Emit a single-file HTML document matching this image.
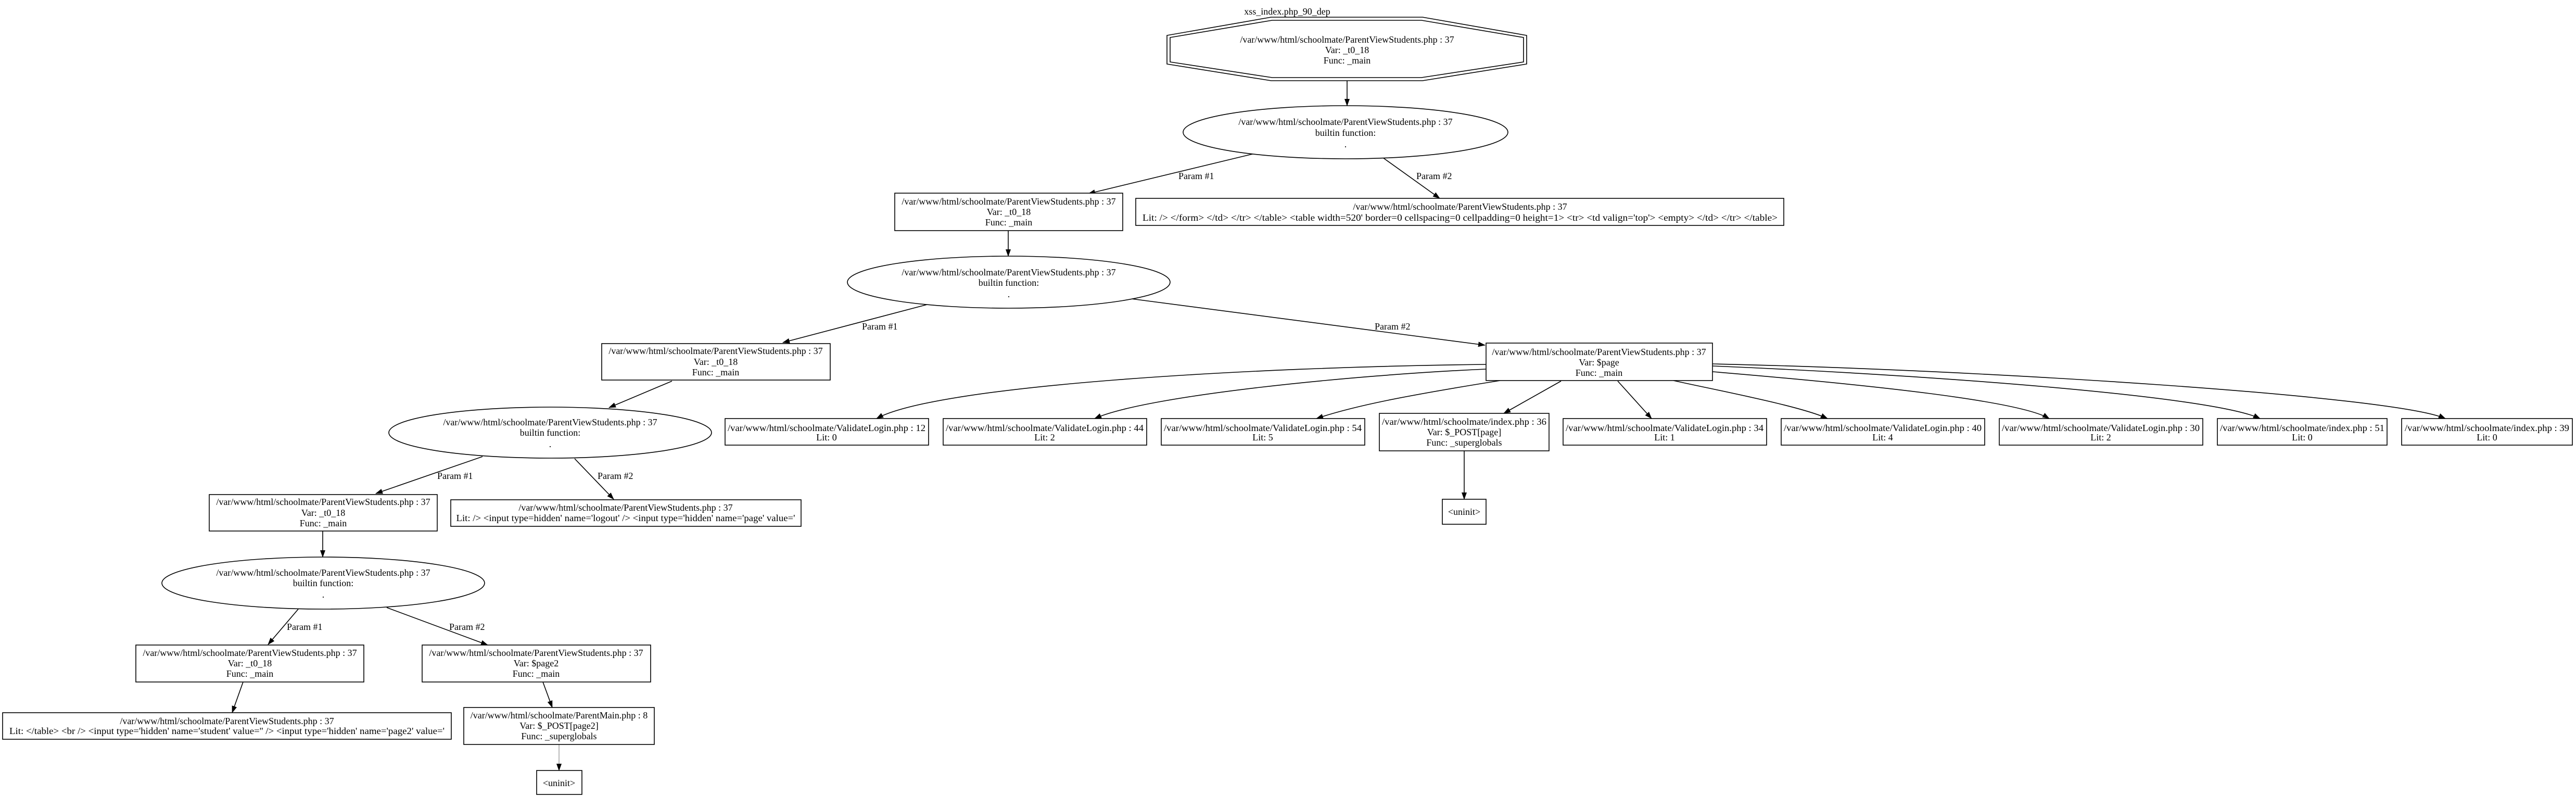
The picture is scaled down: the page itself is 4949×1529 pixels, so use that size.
<!DOCTYPE html>
<html><head><meta charset="utf-8"><style>
html,body{margin:0;padding:0;background:#fff;}
svg{display:block;}
text{font-family:"Liberation Serif",serif;font-size:18px;fill:#000;dominant-baseline:central;}
.c{text-anchor:middle;}
.n{fill:#fff;stroke:#000;stroke-width:1.6;}
.e{fill:none;stroke:#000;stroke-width:1.6;}
</style></head><body>
<svg width="4949" height="1529" viewBox="0 0 4949 1529" xmlns="http://www.w3.org/2000/svg">
<defs><marker id="a" markerWidth="10" markerHeight="8" refX="9" refY="4" orient="auto" markerUnits="userSpaceOnUse" viewBox="0 0 10 8"><path d="M0,0 L10,4 L0,8 z" fill="#000"/></marker>
<marker id="a2" markerWidth="14" markerHeight="10" refX="13" refY="5" orient="auto" markerUnits="userSpaceOnUse" viewBox="0 0 14 10"><path d="M0,0 L14,5 L0,10 z" fill="#000"/></marker></defs>

<text class="c" x="2473" y="22">xss_index.php_90_dep</text>

<!-- octagon -->
<polygon class="n" points="2442,33 2733,33 2933,68 2933,123 2733,155 2442,155 2242,123 2242,68"/>
<polygon class="n" points="2444,39 2731,39 2927,72 2927,119 2731,149 2444,149 2248,119 2248,72"/>
<text class="c" x="2588" y="76">/var/www/html/schoolmate/ParentViewStudents.php : 37</text>
<text class="c" x="2588" y="96">Var: _t0_18</text>
<text class="c" x="2588" y="116">Func: _main</text>

<!-- edges -->
<g class="e" marker-end="url(#a2)">
<path d="M2588,155 L2588,203"/>
<path d="M2410,295 L2091,372"/>
<path d="M2657,303 L2766,381"/>
<path d="M1937,443 L1937,492"/>
<path d="M1781,585 L1504,658"/>
<path d="M2174,574 L2853,663"/>
<path d="M1291,732 L1170,783"/>
<path d="M927,877 L722,948"/>
<path d="M1104,881 L1179,959"/>
<path d="M620,1020 L620,1070"/>
<path d="M573,1170 L515,1238"/>
<path d="M743,1167 L937,1239"/>
<path d="M467,1310 L446,1369"/>
<path d="M1043,1310 L1061,1359"/>
<path d="M2813,866 L2813,959"/>
<path d="M2855,700 C2400,705 1800,740 1684,804"/>
<path d="M2855,709 C2600,720 2200,760 2103,804"/>
<path d="M2882,731 C2700,760 2600,780 2529,804"/>
<path d="M2999,732 L2889,794"/>
<path d="M3108,732 L3173,804"/>
<path d="M3215,731 C3300,750 3460,780 3511,804"/>
<path d="M3290,714 C3600,740 3880,770 3937,804"/>
<path d="M3290,703 C3700,720 4250,760 4342,804"/>
<path d="M3290,699 C3800,710 4600,760 4698,804"/>
</g>
<path d="M1074,1430 L1074,1480" stroke="#888" stroke-width="1.2" fill="none" marker-end="url(#a2)"/>

<!-- edge labels -->
<text x="2264" y="338">Param #1</text>
<text x="2721" y="338">Param #2</text>
<text x="1656" y="627">Param #1</text>
<text x="2641" y="627">Param #2</text>
<text x="840" y="914">Param #1</text>
<text x="1148" y="914">Param #2</text>
<text x="551" y="1204">Param #1</text>
<text x="863" y="1204">Param #2</text>

<!-- E1 -->
<ellipse class="n" cx="2585" cy="254" rx="312" ry="51"/>
<text class="c" x="2585" y="234">/var/www/html/schoolmate/ParentViewStudents.php : 37</text>
<text class="c" x="2585" y="255">builtin function:</text>
<text class="c" x="2585" y="277">.</text>

<!-- A -->
<rect class="n" x="1719" y="371" width="438" height="72"/>
<text class="c" x="1938" y="387">/var/www/html/schoolmate/ParentViewStudents.php : 37</text>
<text class="c" x="1938" y="407">Var: _t0_18</text>
<text class="c" x="1938" y="427">Func: _main</text>

<!-- B -->
<rect class="n" x="2182" y="381" width="1245" height="52"/>
<text class="c" x="2805" y="397">/var/www/html/schoolmate/ParentViewStudents.php : 37</text>
<text class="c" x="2805" y="418" textLength="1220" lengthAdjust="spacingAndGlyphs">Lit:  /&gt; &lt;/form&gt; &lt;/td&gt; &lt;/tr&gt; &lt;/table&gt; &lt;table width=520' border=0 cellspacing=0 cellpadding=0 height=1&gt;  &lt;tr&gt;   &lt;td valign='top'&gt;   &lt;empty&gt;   &lt;/td&gt;  &lt;/tr&gt; &lt;/table&gt;</text>

<!-- E2 -->
<ellipse class="n" cx="1938" cy="542" rx="310" ry="50"/>
<text class="c" x="1938" y="523">/var/www/html/schoolmate/ParentViewStudents.php : 37</text>
<text class="c" x="1938" y="543">builtin function:</text>
<text class="c" x="1938" y="565">.</text>

<!-- C -->
<rect class="n" x="1156" y="660" width="439" height="70"/>
<text class="c" x="1375" y="674">/var/www/html/schoolmate/ParentViewStudents.php : 37</text>
<text class="c" x="1375" y="695">Var: _t0_18</text>
<text class="c" x="1375" y="715">Func: _main</text>

<!-- F -->
<rect class="n" x="2855" y="659" width="435" height="72"/>
<text class="c" x="3072" y="676">/var/www/html/schoolmate/ParentViewStudents.php : 37</text>
<text class="c" x="3072" y="696">Var: $page</text>
<text class="c" x="3072" y="716">Func: _main</text>

<!-- E3 -->
<ellipse class="n" cx="1057" cy="831" rx="310" ry="49"/>
<text class="c" x="1057" y="811">/var/www/html/schoolmate/ParentViewStudents.php : 37</text>
<text class="c" x="1057" y="831">builtin function:</text>
<text class="c" x="1057" y="853">.</text>

<!-- G -->
<rect class="n" x="402" y="950" width="438" height="70"/>
<text class="c" x="621" y="964">/var/www/html/schoolmate/ParentViewStudents.php : 37</text>
<text class="c" x="621" y="985">Var: _t0_18</text>
<text class="c" x="621" y="1005">Func: _main</text>

<!-- D -->
<rect class="n" x="866" y="960" width="673" height="51"/>
<text class="c" x="1202" y="975">/var/www/html/schoolmate/ParentViewStudents.php : 37</text>
<text class="c" x="1202" y="995" textLength="651" lengthAdjust="spacingAndGlyphs">Lit:  /&gt;  &lt;input type=hidden' name='logout' /&gt;  &lt;input type='hidden' name='page' value='</text>

<!-- E4 -->
<ellipse class="n" cx="621" cy="1120" rx="310" ry="50"/>
<text class="c" x="621" y="1100">/var/www/html/schoolmate/ParentViewStudents.php : 37</text>
<text class="c" x="621" y="1120">builtin function:</text>
<text class="c" x="621" y="1142">.</text>

<!-- H -->
<rect class="n" x="261" y="1239" width="438" height="71"/>
<text class="c" x="480" y="1254">/var/www/html/schoolmate/ParentViewStudents.php : 37</text>
<text class="c" x="480" y="1274">Var: _t0_18</text>
<text class="c" x="480" y="1294">Func: _main</text>

<!-- I -->
<rect class="n" x="811" y="1239" width="439" height="71"/>
<text class="c" x="1030" y="1254">/var/www/html/schoolmate/ParentViewStudents.php : 37</text>
<text class="c" x="1030" y="1274">Var: $page2</text>
<text class="c" x="1030" y="1294">Func: _main</text>

<!-- J -->
<rect class="n" x="5" y="1369" width="862" height="51"/>
<text class="c" x="436" y="1385">/var/www/html/schoolmate/ParentViewStudents.php : 37</text>
<text class="c" x="436" y="1404" textLength="836" lengthAdjust="spacingAndGlyphs">Lit:   &lt;/table&gt;  &lt;br /&gt;  &lt;input type='hidden' name='student' value='' /&gt;  &lt;input type='hidden' name='page2' value='</text>

<!-- K -->
<rect class="n" x="891" y="1359" width="366" height="71"/>
<text class="c" x="1074" y="1374">/var/www/html/schoolmate/ParentMain.php : 8</text>
<text class="c" x="1074" y="1394">Var: $_POST[page2]</text>
<text class="c" x="1074" y="1414">Func: _superglobals</text>

<!-- L -->
<rect class="n" x="1031" y="1480" width="87" height="46"/>
<text class="c" x="1074" y="1504">&lt;uninit&gt;</text>

<!-- bottom row -->
<rect class="n" x="1393" y="804" width="391" height="51"/>
<text class="c" x="1588" y="822" textLength="380" lengthAdjust="spacingAndGlyphs">/var/www/html/schoolmate/ValidateLogin.php : 12</text>
<text class="c" x="1588" y="840">Lit: 0</text>

<rect class="n" x="1812" y="804" width="391" height="51"/>
<text class="c" x="2007" y="822" textLength="380" lengthAdjust="spacingAndGlyphs">/var/www/html/schoolmate/ValidateLogin.php : 44</text>
<text class="c" x="2007" y="840">Lit: 2</text>

<rect class="n" x="2231" y="804" width="391" height="51"/>
<text class="c" x="2426" y="822" textLength="380" lengthAdjust="spacingAndGlyphs">/var/www/html/schoolmate/ValidateLogin.php : 54</text>
<text class="c" x="2426" y="840">Lit: 5</text>

<rect class="n" x="2650" y="794" width="326" height="72"/>
<text class="c" x="2813" y="810" textLength="316" lengthAdjust="spacingAndGlyphs">/var/www/html/schoolmate/index.php : 36</text>
<text class="c" x="2813" y="830">Var: $_POST[page]</text>
<text class="c" x="2813" y="850">Func: _superglobals</text>

<rect class="n" x="3003" y="804" width="391" height="51"/>
<text class="c" x="3198" y="822" textLength="380" lengthAdjust="spacingAndGlyphs">/var/www/html/schoolmate/ValidateLogin.php : 34</text>
<text class="c" x="3198" y="840">Lit: 1</text>

<rect class="n" x="3422" y="804" width="391" height="51"/>
<text class="c" x="3617" y="822" textLength="380" lengthAdjust="spacingAndGlyphs">/var/www/html/schoolmate/ValidateLogin.php : 40</text>
<text class="c" x="3617" y="840">Lit: 4</text>

<rect class="n" x="3841" y="804" width="391" height="51"/>
<text class="c" x="4036" y="822" textLength="380" lengthAdjust="spacingAndGlyphs">/var/www/html/schoolmate/ValidateLogin.php : 30</text>
<text class="c" x="4036" y="840">Lit: 2</text>

<rect class="n" x="4260" y="804" width="326" height="51"/>
<text class="c" x="4423" y="822" textLength="316" lengthAdjust="spacingAndGlyphs">/var/www/html/schoolmate/index.php : 51</text>
<text class="c" x="4423" y="840">Lit: 0</text>

<rect class="n" x="4614" y="804" width="328" height="51"/>
<text class="c" x="4778" y="822" textLength="316" lengthAdjust="spacingAndGlyphs">/var/www/html/schoolmate/index.php : 39</text>
<text class="c" x="4778" y="840">Lit: 0</text>

<rect class="n" x="2771" y="959" width="84" height="48"/>
<text class="c" x="2813" y="983">&lt;uninit&gt;</text>
</svg>
</body></html>
